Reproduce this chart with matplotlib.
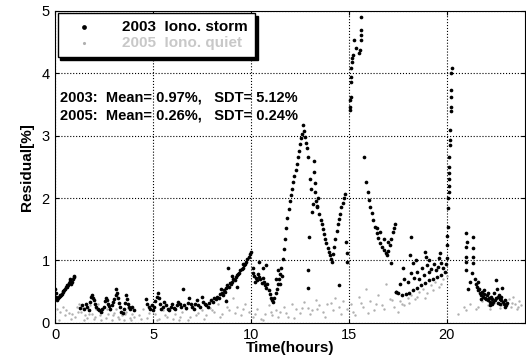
import numpy as np
import matplotlib
matplotlib.use('Agg')
import matplotlib.pyplot as plt

plt.rcParams['font.family'] = ['Liberation Sans', 'DejaVu Sans']

# ---- 2003 ionospheric storm (segment by segment) ----
t_a = [0.00, 0.02, 0.04, 0.06, 0.08, 0.10, 0.14, 0.18, 0.22, 0.26, 0.30, 0.34, 0.38, 0.42,
       0.46, 0.50, 0.54, 0.58, 0.62, 0.66, 0.70, 0.74, 0.78, 0.82, 0.86, 0.90, 0.94, 0.98]
v_a = [0.55, 0.48, 0.42, 0.40, 0.37, 0.38, 0.40, 0.41, 0.43, 0.44, 0.45, 0.47, 0.49, 0.51,
       0.53, 0.55, 0.58, 0.60, 0.57, 0.61, 0.64, 0.67, 0.70, 0.63, 0.66, 0.70, 0.73, 0.75]

t_b = [1.25, 1.35, 1.45, 1.55, 1.62, 1.70, 1.78, 1.85, 1.90, 1.95, 2.00, 2.05, 2.10, 2.18, 2.25,
       2.32, 2.40, 2.48, 2.55, 2.60, 2.65, 2.70, 2.76, 2.82, 2.90, 2.96, 3.02, 3.08, 3.12, 3.16,
       3.20, 3.26, 3.32, 3.38, 3.45, 3.52, 3.58, 3.62, 3.66, 3.70, 3.76, 3.84, 3.92, 4.00]
v_b = [0.24, 0.28, 0.22, 0.30, 0.26, 0.20, 0.33, 0.42, 0.45, 0.40, 0.36, 0.30, 0.26, 0.22, 0.20,
       0.18, 0.22, 0.26, 0.35, 0.40, 0.36, 0.30, 0.27, 0.22, 0.28, 0.33, 0.38, 0.44, 0.55, 0.48,
       0.40, 0.32, 0.25, 0.18, 0.16, 0.22, 0.32, 0.45, 0.38, 0.30, 0.26, 0.22, 0.25, 0.20]

t_c = [4.62, 4.70, 4.78, 4.85, 4.92, 5.00, 5.06, 5.12, 5.18, 5.24, 5.30, 5.36, 5.42, 5.50, 5.58,
       5.66, 5.74, 5.82, 5.90, 5.98, 6.05, 6.12, 6.20, 6.28, 6.36, 6.44, 6.52, 6.60, 6.68, 6.76,
       6.84, 6.92, 7.00, 7.08, 7.16, 7.24, 7.32, 7.40, 7.48, 7.56, 7.64, 7.72, 7.80, 7.88, 7.96,
       8.04, 8.12]
v_c = [0.38, 0.30, 0.26, 0.22, 0.28, 0.20, 0.25, 0.35, 0.42, 0.48, 0.40, 0.30, 0.22, 0.25, 0.33,
       0.28, 0.22, 0.20, 0.26, 0.31, 0.24, 0.22, 0.28, 0.34, 0.30, 0.26, 0.55, 0.28, 0.24, 0.32,
       0.40, 0.30, 0.26, 0.22, 0.30, 0.36, 0.28, 0.26, 0.42, 0.34, 0.30, 0.28, 0.26, 0.32, 0.36,
       0.34, 0.40]

t_d = [8.20, 8.28, 8.35, 8.42, 8.50, 8.56, 8.62, 8.68, 8.74, 8.80, 8.86, 8.92, 8.98, 9.04, 9.10,
       9.16, 9.22, 9.28, 9.34, 9.40, 9.46, 9.52, 9.58, 9.64, 9.70, 9.76, 9.82, 9.88, 9.94, 10.00,
       8.45, 8.82, 9.05, 9.30, 9.60, 8.70]
v_d = [0.38, 0.42, 0.40, 0.46, 0.48, 0.45, 0.52, 0.50, 0.56, 0.60, 0.58, 0.64, 0.62, 0.66, 0.70,
       0.68, 0.74, 0.76, 0.78, 0.80, 0.84, 0.86, 0.88, 0.92, 0.95, 0.98, 1.02, 1.05, 1.10, 1.14,
       0.55, 0.88, 0.75, 0.58, 0.95, 0.35]

t_e = [10.08, 10.12, 10.18, 10.24, 10.30, 10.36, 10.42, 10.48, 10.54, 10.60, 10.66, 10.72,
       10.78, 10.84, 10.90, 10.96, 11.02, 11.08, 11.14, 10.40, 10.60, 10.75, 10.20]
v_e = [0.88, 0.80, 0.75, 0.72, 0.68, 0.78, 0.74, 0.70, 0.64, 0.72, 0.66, 0.60, 0.56, 0.62,
       0.52, 0.46, 0.40, 0.36, 0.34, 0.98, 0.88, 0.92, 0.65]

t_f = [11.20, 11.26, 11.32, 11.38, 11.44, 11.50, 11.56, 11.62, 11.68, 11.74, 11.80, 11.86,
       11.92, 11.98, 12.04, 12.10, 12.16, 12.22, 12.28, 12.34, 12.40, 12.46, 12.52, 12.58,
       12.62, 12.66, 12.70, 12.74, 11.30, 11.40, 11.50, 11.60]
v_f = [0.40, 0.48, 0.55, 0.62, 0.70, 0.78, 0.88, 1.02, 1.18, 1.35, 1.52, 1.68, 1.82, 1.95, 2.05,
       2.15, 2.26, 2.36, 2.45, 2.55, 2.66, 2.76, 2.86, 2.96, 3.02, 3.17, 3.08, 2.98, 0.70, 0.85,
       0.62, 0.75]

t_g = [12.80, 12.86, 12.92, 12.95, 12.92, 12.92, 13.00, 13.05, 13.10, 13.15, 13.20, 13.22,
       13.25, 13.28, 13.30, 13.35, 13.40, 13.45, 13.50, 13.56, 13.62, 13.68, 13.74, 13.80,
       13.86, 13.92, 13.98, 14.04, 14.10, 14.15]
v_g = [2.88, 2.80, 2.66, 1.38, 0.56, 0.85, 2.30, 2.15, 1.78, 1.90, 2.60, 2.42, 2.24, 2.10,
       1.96, 1.86, 1.88, 2.00, 1.75, 1.65, 1.58, 1.50, 1.42, 1.35, 1.28, 1.20, 1.14, 1.08,
       1.02, 0.98]

t_h = [14.20, 14.26, 14.32, 14.38, 14.44, 14.50, 14.56, 14.62, 14.68, 14.74, 14.80, 14.50,
       14.88, 14.90, 14.92]
v_h = [1.10, 1.22, 1.35, 1.48, 1.58, 1.66, 1.74, 1.85, 1.92, 2.00, 2.06, 0.60, 1.30, 1.12, 0.98]

t_i = [15.05, 15.07, 15.08, 15.10, 15.10, 15.12, 15.13, 15.15, 15.18, 15.22, 15.28, 15.36,
       15.50, 15.58, 15.60, 15.62, 15.62, 15.62]
v_i = [3.41, 3.46, 3.57, 3.62, 3.86, 3.94, 4.08, 4.18, 4.24, 4.30, 4.53, 4.40, 4.32, 4.37,
       4.53, 4.70, 4.90, 4.62]

t_j = [15.78, 15.90, 15.96, 16.04, 16.10, 16.18, 16.24, 16.32, 16.42, 16.50, 16.60, 16.70,
       16.80, 16.88, 16.95, 17.02, 17.10, 17.18, 17.26, 17.32, 17.38, 16.45, 16.60, 16.80,
       17.00, 17.15, 17.40]
v_j = [2.66, 2.26, 2.10, 1.97, 1.86, 1.76, 1.65, 1.54, 1.44, 1.36, 1.28, 1.22, 1.17, 1.12,
       1.09, 1.15, 1.25, 1.35, 1.45, 1.52, 1.58, 1.52, 1.46, 1.35, 1.30, 0.96, 0.50]

t_k = [17.50, 17.70, 17.90, 18.10, 18.30, 18.50, 18.70, 18.90, 19.10, 19.30, 19.50, 19.70,
       19.90, 17.60, 17.80, 18.00, 18.20, 18.35, 18.50, 18.60, 18.75, 18.85, 19.00, 19.10,
       19.20, 19.35, 19.45, 19.55, 19.70, 19.80, 19.95, 18.20, 18.15, 18.30, 18.45, 18.90,
       18.95, 19.10, 19.60, 19.65, 17.75, 17.40]
v_k = [0.48, 0.45, 0.47, 0.48, 0.52, 0.56, 0.60, 0.64, 0.68, 0.70, 0.74, 0.76, 0.82, 0.62,
       0.70, 0.66, 0.80, 0.72, 0.82, 0.70, 0.88, 0.76, 0.92, 0.82, 0.86, 0.95, 0.84, 0.90,
       0.96, 0.88, 0.94, 1.38, 1.09, 0.96, 1.00, 1.14, 1.05, 1.00, 1.04, 1.12, 0.88, 0.50]

t_l = [20.25, 20.24, 20.22, 20.21, 20.20, 20.20, 20.18, 20.16, 20.16, 20.14, 20.13, 20.12,
       20.11, 20.10, 20.10, 20.09, 20.07, 20.05, 20.04, 20.03, 20.00]
v_l = [4.08, 4.00, 3.73, 3.62, 3.46, 3.40, 3.09, 2.93, 2.85, 2.66, 2.50, 2.40, 2.30, 2.20,
       2.10, 2.00, 1.84, 1.54, 1.40, 1.25, 1.04]

t_m = [21.00, 21.00, 21.00, 21.00, 21.00, 21.05, 21.37, 21.37, 21.37, 21.37, 21.30, 21.20, 21.10,
       21.45, 21.50, 21.55, 21.60, 21.65, 21.70, 21.75, 21.80, 21.85, 21.90, 21.95, 22.00,
       22.05, 22.10, 22.15, 22.20, 22.25, 22.30, 22.35, 22.40, 22.45, 22.50, 22.55, 22.60,
       22.65, 22.70, 22.75, 22.80, 22.85, 22.90, 22.95, 23.00, 23.05, 23.10,
       21.60, 21.90, 22.10, 22.30, 22.50, 22.60, 22.80, 23.00, 22.20, 21.75]
v_m = [1.44, 1.22, 1.06, 0.98, 0.85, 1.30, 1.38, 1.20, 1.06, 0.96, 0.80, 0.65, 0.55,
       0.70, 0.62, 0.58, 0.52, 0.55, 0.48, 0.45, 0.50, 0.42, 0.46, 0.40, 0.38,
       0.44, 0.36, 0.40, 0.34, 0.42, 0.38, 0.33, 0.48, 0.36, 0.40, 0.55, 0.32,
       0.45, 0.38, 0.30, 0.42, 0.56, 0.34, 0.30, 0.36, 0.28, 0.32,
       0.65, 0.52, 0.48, 0.30, 0.69, 0.42, 0.36, 0.26, 0.28, 0.38]

t_2003 = t_a + t_b + t_c + t_d + t_e + t_f + t_g + t_h + t_i + t_j + t_k + t_l + t_m
v_2003 = v_a + v_b + v_c + v_d + v_e + v_f + v_g + v_h + v_i + v_j + v_k + v_l + v_m

# ---- 2005 quiet day ----
t_q1 = [0.1, 0.25, 0.4, 0.55, 0.7, 0.85, 1.0, 1.1, 1.2, 1.3, 1.4, 1.5, 1.6, 1.7, 1.8, 1.9,
        2.0, 2.1, 2.2, 2.3, 2.4, 2.5, 2.6, 2.7, 2.8, 2.9, 3.0, 3.1, 3.2, 3.3, 3.4, 3.5, 3.6,
        3.7, 3.8, 3.9, 4.0,
        4.3, 4.5, 4.7, 4.9, 5.1, 5.3, 5.5, 5.7, 5.9, 6.1, 6.3, 6.5, 6.7, 6.9, 7.1, 7.3, 7.5,
        7.7, 7.9, 8.1, 8.3, 8.5, 8.7, 8.9, 9.1, 9.3, 9.5, 9.7, 9.9]
v_q1 = [0.22, 0.18, 0.25, 0.20, 0.16, 0.14, 0.10, 0.26, 0.30, 0.18, 0.24, 0.12, 0.08, 0.20,
        0.28, 0.15, 0.06, 0.22, 0.30, 0.12, 0.18, 0.25, 0.08, 0.14, 0.20, 0.05, 0.16, 0.22,
        0.10, 0.26, 0.12, 0.05, 0.18, 0.24, 0.08, 0.15, 0.10,
        0.12, 0.22, 0.08, 0.28, 0.15, 0.06, 0.20, 0.10, 0.25, 0.14, 0.05, 0.18, 0.22, 0.09,
        0.28, 0.16, 0.20, 0.12, 0.24, 0.18, 0.30, 0.14, 0.36, 0.20, 0.40, 0.25, 0.12, 0.30,
        0.18]
t_q2 = [10.1, 10.3, 10.5, 10.7, 10.9, 11.1, 11.3, 11.5, 11.7, 11.9, 12.1, 12.3, 12.5, 12.7,
        12.9, 13.1, 13.3, 13.5, 13.7, 13.9, 14.1, 14.3, 14.5, 14.7, 14.9,
        15.1, 15.3, 15.5, 15.7, 15.9, 16.1, 16.3, 16.5, 16.7, 16.9, 17.1, 17.3, 17.5,
        17.6, 17.8, 18.0, 18.2, 18.4, 18.6, 18.8, 19.0, 19.2, 19.4, 19.6, 19.8, 20.0,
        20.6, 20.9, 21.2, 21.5, 21.8, 22.1, 22.4, 22.7, 23.0, 23.2, 23.3, 23.4, 23.5, 23.6,
        23.7, 23.8]
v_q2 = [0.10, 0.22, 0.06, 0.15, 0.28, 0.12, 0.20, 0.18, 0.26, 0.10, 0.30, 0.22, 0.16, 0.34,
        0.24, 0.20, 0.36, 0.28, 0.18, 0.30, 0.32, 0.40, 0.26, 0.35, 0.22,
        0.30, 0.12, 0.42, 0.25, 0.55, 0.35, 0.20, 0.45, 0.28, 0.62, 0.38, 0.25, 0.18,
        0.35, 0.28, 0.40, 0.45, 0.38, 0.50, 0.55, 0.48, 0.60, 0.65, 0.58, 0.70, 0.75,
        0.15, 0.25, 0.30, 0.22, 0.35, 0.28, 0.32, 0.24, 0.30, 0.38, 0.26, 0.42, 0.30, 0.22,
        0.35, 0.28]
# a second, lower layer of the quiet-day band
t_q3 = [0.2, 0.5, 0.8, 1.15, 1.45, 1.75, 2.05, 2.35, 2.65, 2.95, 3.25, 3.55, 3.85, 4.4, 4.8,
        5.2, 5.6, 6.0, 6.4, 6.8, 7.2, 7.6, 8.0, 8.4, 8.8, 9.2, 9.6, 10.2, 10.6, 11.0, 11.4,
        11.8, 12.2, 12.6, 13.0, 13.4, 13.8, 14.2, 14.6, 15.2, 15.6, 16.0, 16.4, 16.8, 17.2,
        17.7, 18.1, 18.5, 18.9, 19.3, 19.7, 21.0, 21.6, 22.2, 22.8, 23.35, 23.65]
v_q3 = [0.04, 0.12, 0.06, 0.18, 0.05, 0.14, 0.10, 0.04, 0.22, 0.12, 0.06, 0.14, 0.04, 0.06,
        0.16, 0.04, 0.12, 0.06, 0.10, 0.04, 0.12, 0.06, 0.20, 0.10, 0.26, 0.16, 0.22, 0.14,
        0.04, 0.18, 0.10, 0.16, 0.08, 0.24, 0.14, 0.22, 0.10, 0.20, 0.14, 0.18, 0.32, 0.16,
        0.30, 0.22, 0.36, 0.30, 0.32, 0.42, 0.40, 0.52, 0.62, 0.20, 0.26, 0.22, 0.28, 0.32,
        0.25]
t_2005 = t_q1 + t_q2 + t_q3
v_2005 = v_q1 + v_q2 + v_q3

stats_lines = ['2003:  Mean= 0.97%,   SDT= 5.12%',
               '2005:  Mean= 0.26%,   SDT= 0.24%']
x_ticks = [0, 5, 10, 15, 20]
y_ticks = [0, 1, 2, 3, 4, 5]

fig = plt.figure(figsize=(5.26, 3.64), dpi=100)
ax = fig.add_axes([0.105, 0.113, 0.893, 0.857])

ax.scatter(t_2005, v_2005, s=3, color='#b0b0b0', linewidths=0, label='2005  Iono. quiet', zorder=2)
ax.scatter(t_2003, v_2003, s=7, color='black', linewidths=0, label='2003  Iono. storm', zorder=3)

ax.set_xlim(0, 24)
ax.set_ylim(0, 5)
ax.set_xticks(x_ticks)
ax.set_yticks(y_ticks)
ax.grid(True, linestyle=':', color='black', linewidth=0.8)
ax.set_axisbelow(True)
ax.tick_params(direction='in', top=True, right=True, labelsize=10.5, length=3, pad=4)
for s in ax.spines.values():
    s.set_linewidth(0.8)

ax.set_xlabel('Time(hours)', fontsize=11, fontweight='bold', labelpad=-1)
ax.set_ylabel('Residual[%]', fontsize=11, fontweight='bold', labelpad=5)

handles, labels = ax.get_legend_handles_labels()
leg = ax.legend(handles[::-1], labels[::-1], loc='upper left', bbox_to_anchor=(0.0, 1.0),
                frameon=True, fancybox=False, shadow={'color': 'black', 'alpha': 1.0},
                borderaxespad=0.15, handlelength=2.6, handletextpad=1.2, borderpad=0.45,
                labelspacing=0.15, markerscale=1.3, prop={'size': 11, 'weight': 'bold'})
leg.get_frame().set_edgecolor('black')
leg.get_frame().set_linewidth(1.0)
leg.get_texts()[1].set_color('#c8c8c8')

ax.text(0.22, 3.62, stats_lines[0], fontsize=10.5, fontweight='bold', va='center')
ax.text(0.22, 3.33, stats_lines[1], fontsize=10.5, fontweight='bold', va='center')

fig.savefig('out.png', dpi=100)
